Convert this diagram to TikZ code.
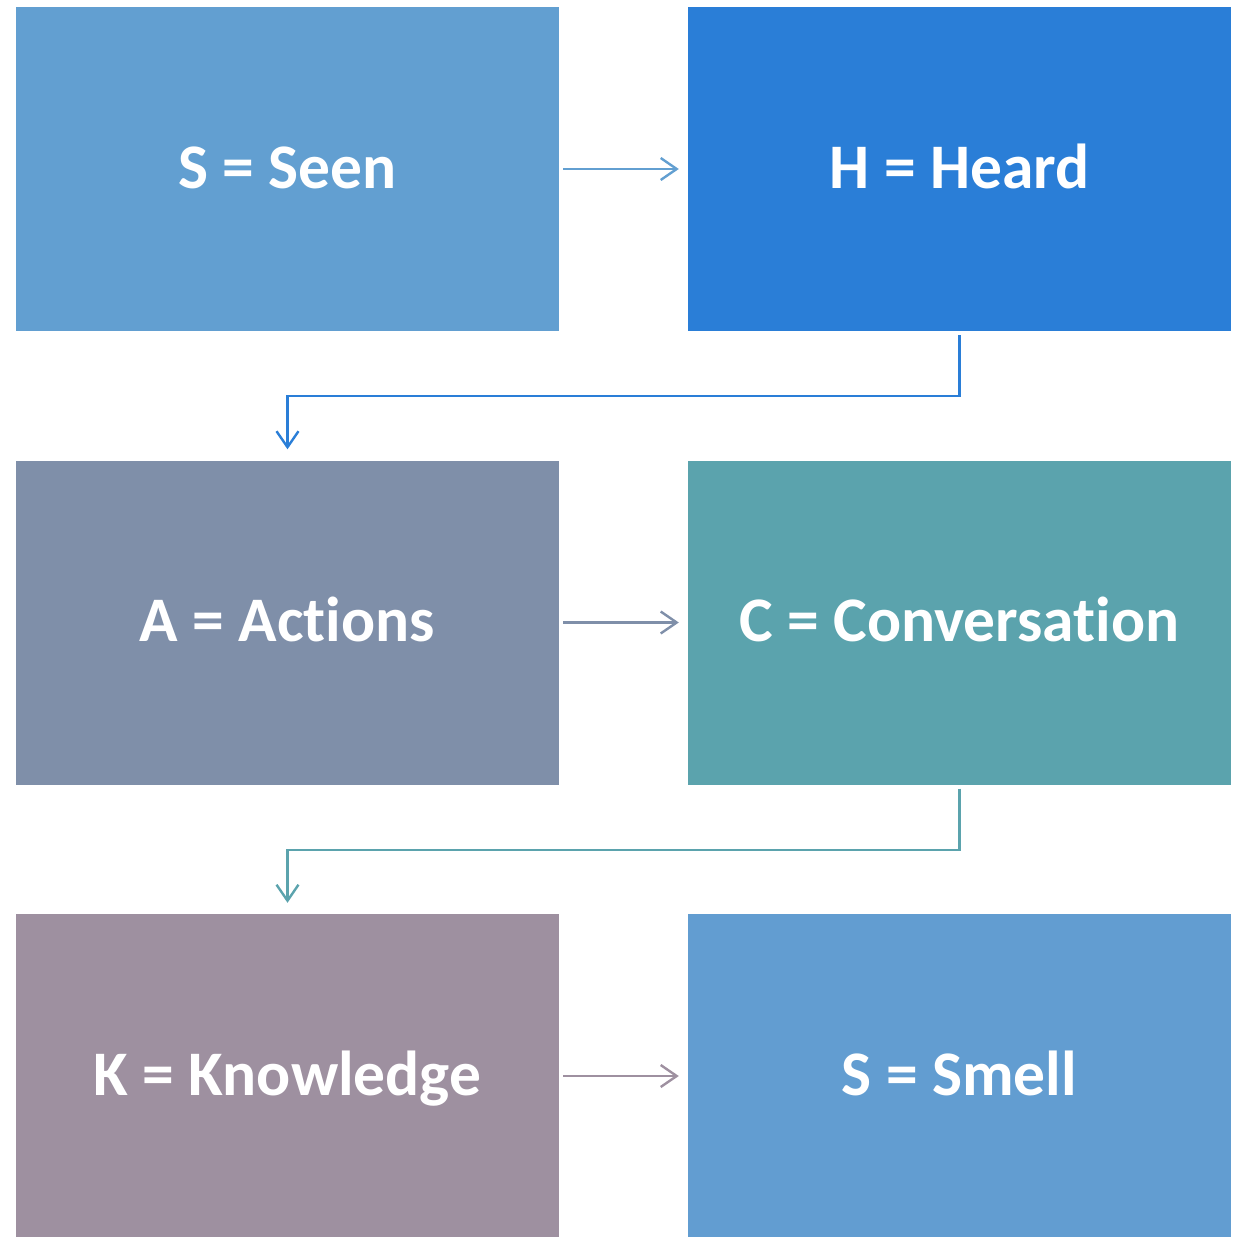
\documentclass[tikz,border=0pt]{standalone}
\usepackage{fontspec}
\setmainfont[RawFeature={-liga,-dlig,-calt}]{Carlito}
\usetikzlibrary{arrows.meta}
\definecolor{cSeen}{HTML}{629FD1}
\definecolor{cHeard}{HTML}{2A7ED7}
\definecolor{cAct}{HTML}{7F8FA9}
\definecolor{cConv}{HTML}{5BA3AD}
\definecolor{cKnow}{HTML}{9E90A0}
\definecolor{cSmell}{HTML}{629DD1}
\begin{document}
\begin{tikzpicture}[x=1pt,y=-1pt,
  box/.style={draw=none,minimum width=543pt,minimum height=324pt,inner sep=0pt,
    text height=41pt,text depth=3pt,
    text=white,font=\fontsize{63.5}{76}\selectfont\bfseries},
  link/.style={line width=2.4pt,-{Straight Barb[length=16pt,width=22pt,line width=2.4pt]}}]
\useasboundingbox (0,0) rectangle (1238,1236);
\node[box,fill=cSeen]  (s)  at (287.5,169)  {S = Seen};
\node[box,fill=cHeard] (h)  at (959.5,169)  {H = Heard};
\node[box,fill=cAct]   (a)  at (287.5,622.5) {A = Actions};
\node[box,fill=cConv]  (c)  at (959.5,622.5) {C = Conversation};
\node[box,fill=cKnow]  (k)  at (287.5,1076) {K = Knowledge};
\node[box,fill=cSmell] (sm) at (959.5,1076) {S = Smell};
\draw[link,cSeen] ([xshift=4pt]s.east) -- ([xshift=-9pt]h.west);
\draw[link,cAct]  ([xshift=4pt]a.east) -- ([xshift=-9pt]c.west);
\draw[link,cKnow] ([xshift=4pt]k.east) -- ([xshift=-9pt]sm.west);
\draw[link,cHeard] ([yshift=-4pt]h.south) -- ++(0,61) -| ([yshift=11pt]a.north);
\draw[link,cConv]  ([yshift=-4pt]c.south) -- ++(0,61) -| ([yshift=11pt]k.north);
\end{tikzpicture}
\end{document}
